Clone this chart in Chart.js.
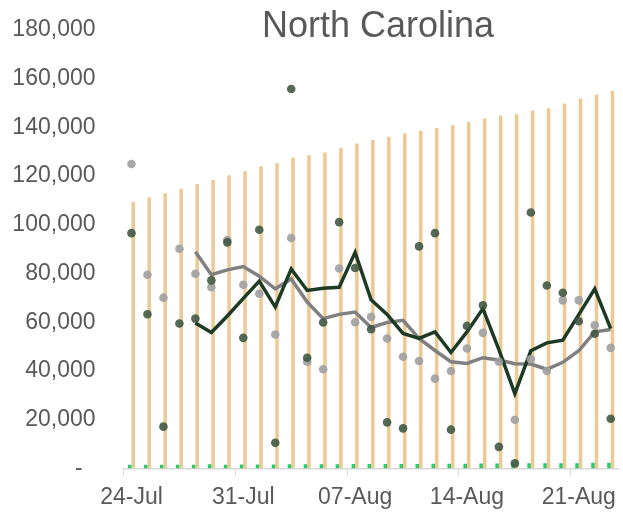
<!DOCTYPE html>
<html>
<head>
<meta charset="utf-8">
<script src="https://cdn.jsdelivr.net/npm/chart.js@4"></script>
<style>
  html, body { margin: 0; padding: 0; background: #fff; }
  canvas { display: block; }
</style>
</head>
<body>
<canvas id="nc" width="623" height="513"></canvas>
<script>
// days shown on the x axis
const days = ['24-Jul','25-Jul','26-Jul','27-Jul','28-Jul','29-Jul','30-Jul','31-Jul',
  '01-Aug','02-Aug','03-Aug','04-Aug','05-Aug','06-Aug','07-Aug','08-Aug','09-Aug',
  '10-Aug','11-Aug','12-Aug','13-Aug','14-Aug','15-Aug','16-Aug','17-Aug','18-Aug',
  '19-Aug','20-Aug','21-Aug','22-Aug','23-Aug'];

// orange bars (cumulative)
const totalBars = [109500,111300,112950,114800,116750,118400,120400,122050,124100,125300,
  127500,128600,129700,131700,133350,134850,136200,137550,138650,139750,140850,142200,
  143700,144900,145450,146800,147900,149800,151850,153500,155000];

// small green bars
const smallBars = [1500,1500,1500,1500,1500,1700,1500,1600,1600,1600,1700,1700,1700,1700,
  1800,1800,1800,1800,1800,1900,1900,1900,2000,2000,2000,2100,2100,2100,2100,2300,2300];

// daily points
const darkDots = [96600,63300,17150,59500,61500,77200,92800,53600,98000,10500,155800,45450,
  59900,101100,82300,57150,18900,16450,91150,96600,15900,58500,66950,8850,2050,105050,
  75100,72100,60400,55300,20400];
const greyDots = [125000,79500,70100,90200,79900,74400,93750,75400,71700,55000,94600,43800,
  40700,82050,60000,62200,53350,45850,44100,36850,40000,49250,55650,43800,20000,44800,
  40000,69000,69000,58800,49500];

// averages
const darkLine = [null,null,null,null,59700,55800,62600,69800,76900,66250,81900,73050,
  74000,74400,88700,69250,63250,55400,53350,56050,47600,56050,65600,48800,30700,48300,
  51550,52650,63150,73750,57400];
const greyLine = [null,null,null,null,89000,79500,81500,82850,78900,73750,77800,68300,
  61500,63250,64200,57850,59900,60800,53350,48400,43800,43100,45450,44500,43000,42850,
  40700,43550,48300,56050,57000];

const titleText = 'North Carolina';
const FONT = 'Liberation Sans, Arial, sans-serif';

// title sits inside the plot area, like the original
const titlePlugin = {
  id: 'overlayTitle',
  afterDraw(chart) {
    const c = chart.ctx;
    c.save();
    c.font = '36px ' + FONT;
    c.fillStyle = '#595959';
    c.textAlign = 'center';
    c.textBaseline = 'alphabetic';
    c.fillText(titleText, 378, 37);
    c.restore();
  }
};

new Chart(document.getElementById('nc'), {
  type: 'bar',
  data: {
    labels: days,
    datasets: [
      { type: 'line', data: darkDots, showLine: false, pointRadius: 4.3, pointHoverRadius: 4.3,
        pointBackgroundColor: 'rgba(62,84,64,0.88)', pointBorderWidth: 0, order: 1 },
      { type: 'line', data: greyDots, showLine: false, pointRadius: 4.3, pointHoverRadius: 4.3,
        pointBackgroundColor: 'rgba(160,160,160,0.9)', pointBorderWidth: 0, order: 2 },
      { type: 'line', data: darkLine, borderColor: '#1d3a24', borderWidth: 3.5,
        pointRadius: 0, tension: 0, order: 3 },
      { type: 'line', data: greyLine, borderColor: '#808080', borderWidth: 3.5,
        pointRadius: 0, tension: 0, order: 4 },
      { data: smallBars, backgroundColor: '#33c46e', barPercentage: 1,
        categoryPercentage: 0.44, order: 5 },
      { data: totalBars, backgroundColor: '#edc993', barPercentage: 1,
        categoryPercentage: 0.44, order: 6 }
    ]
  },
  options: {
    responsive: false,
    animation: false,
    layout: { padding: { top: 30, right: 2, bottom: -6, left: 0 } },
    plugins: {
      legend: { display: false },
      tooltip: { enabled: false },
      title: { display: false }
    },
    scales: {
      x: {
        offset: true,
        grid: {
          offset: true,
          drawOnChartArea: false,
          tickLength: 7,
          color: ctx => (ctx.index % 7 === 0 ? '#d9d9d9' : 'rgba(0,0,0,0)')
        },
        border: { color: '#d9d9d9', width: 1.5 },
        ticks: {
          autoSkip: false,
          maxRotation: 0,
          padding: 8,
          color: '#595959',
          font: { family: FONT, size: 23 },
          callback: (v, i) => (i % 7 === 0 ? days[i] : '')
        }
      },
      y: {
        min: 0,
        max: 180000,
        grid: { display: false, drawTicks: false },
        border: { display: false },
        // label gap should not push the plot down
        afterFit: s => { s.width = 123.5; s.paddingTop = 12; s.paddingBottom = 0; },
        ticks: {
          stepSize: 20000,
          padding: 28,
          color: '#595959',
          font: { family: FONT, size: 23 },
          callback: v => (v === 0 ? '-  ' : v.toLocaleString('en-US'))
        }
      }
    }
  },
  plugins: [titlePlugin]
});
</script>
</body>
</html>
